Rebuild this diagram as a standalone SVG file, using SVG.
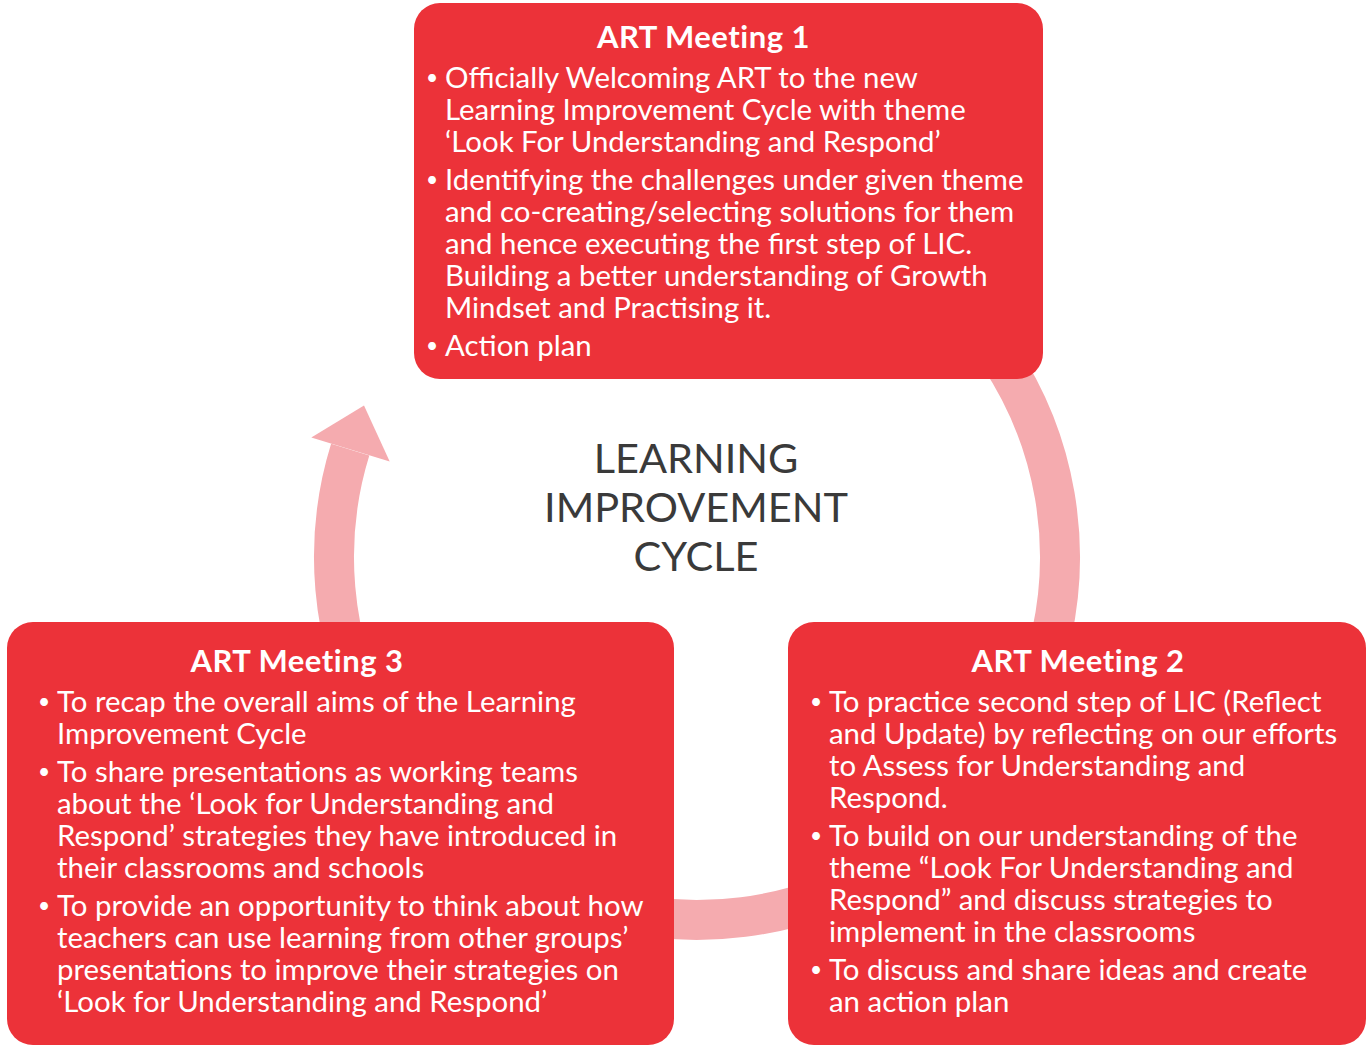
<svg xmlns="http://www.w3.org/2000/svg" width="1367" height="1046" viewBox="0 0 1367 1046">
<style>
.box{fill:#EC3239;}
.t{font-family:Lato,"Open Sans","Liberation Sans",sans-serif;font-size:29.4px;fill:#ffffff;}
.b{font-family:Lato,"Open Sans","Liberation Sans",sans-serif;font-size:21px;fill:#ffffff;}
.h{font-family:Lato,"Open Sans","Liberation Sans",sans-serif;font-size:31px;letter-spacing:0.5px;font-weight:bold;fill:#ffffff;text-anchor:middle;}
.c{font-family:Lato,"Open Sans","Liberation Sans",sans-serif;font-size:41.5px;fill:#3a3a3a;text-anchor:middle;}
.ring{fill:none;stroke:#F5ABAF;stroke-width:40;}
</style>
<rect width="1367" height="1046" fill="#ffffff"/>
<g id="connectors">
<path class="ring" d="M 760 199.5 A 363 363 0 1 1 350.2 449.7"/>
<polygon fill="#F5ABAF" points="311.3,437.5 364,405.5 389.7,461.5"/>
</g>
<g id="center-label">
<text class="c" x="696" y="473">LEARNING<tspan x="696" y="522">IMPROVEMENT</tspan><tspan x="696" y="571">CYCLE</tspan></text>
</g>
<g id="meeting1">
<rect class="box" x="414" y="3" width="629" height="376" rx="26"/>
<text class="h" x="703.5" y="48">ART Meeting 1</text>
<text class="b" x="426" y="85">•</text>
<text class="t" x="445" y="88">Officially Welcoming ART to the new<tspan x="445" y="120">Learning Improvement Cycle with theme</tspan><tspan x="445" y="152">‘Look For Understanding and Respond’</tspan></text>
<text class="b" x="426" y="187">•</text>
<text class="t" x="445" y="190">Identifying the challenges under given theme<tspan x="445" y="222">and co-creating/selecting solutions for them</tspan><tspan x="445" y="254">and hence executing the first step of LIC.</tspan><tspan x="445" y="286">Building a better understanding of Growth</tspan><tspan x="445" y="318">Mindset and Practising it.</tspan></text>
<text class="b" x="426" y="353">•</text>
<text class="t" x="445" y="356">Action plan</text>
</g>
<g id="meeting3">
<rect class="box" x="7" y="622" width="667" height="423" rx="26"/>
<text class="h" x="297" y="672">ART Meeting 3</text>
<text class="b" x="38" y="709">•</text>
<text class="t" x="57" y="712">To recap the overall aims of the Learning<tspan x="57" y="744">Improvement Cycle</tspan></text>
<text class="b" x="38" y="779">•</text>
<text class="t" x="57" y="782">To share presentations as working teams<tspan x="57" y="814">about the ‘Look for Understanding and</tspan><tspan x="57" y="846">Respond’ strategies they have introduced in</tspan><tspan x="57" y="878">their classrooms and schools</tspan></text>
<text class="b" x="38" y="913">•</text>
<text class="t" x="57" y="916">To provide an opportunity to think about how<tspan x="57" y="948">teachers can use learning from other groups’</tspan><tspan x="57" y="980">presentations to improve their strategies on</tspan><tspan x="57" y="1012">‘Look for Understanding and Respond’</tspan></text>
</g>
<g id="meeting2">
<rect class="box" x="788" y="622" width="578" height="423" rx="26"/>
<text class="h" x="1078" y="672">ART Meeting 2</text>
<text class="b" x="810" y="709">•</text>
<text class="t" x="829" y="712">To practice second step of LIC (Reflect<tspan x="829" y="744">and Update) by reflecting on our efforts</tspan><tspan x="829" y="776">to Assess for Understanding and</tspan><tspan x="829" y="808">Respond.</tspan></text>
<text class="b" x="810" y="843">•</text>
<text class="t" x="829" y="846">To build on our understanding of the<tspan x="829" y="878">theme “Look For Understanding and</tspan><tspan x="829" y="910">Respond” and discuss strategies to</tspan><tspan x="829" y="942">implement in the classrooms</tspan></text>
<text class="b" x="810" y="977">•</text>
<text class="t" x="829" y="980">To discuss and share ideas and create<tspan x="829" y="1012">an action plan</tspan></text>
</g>
</svg>
